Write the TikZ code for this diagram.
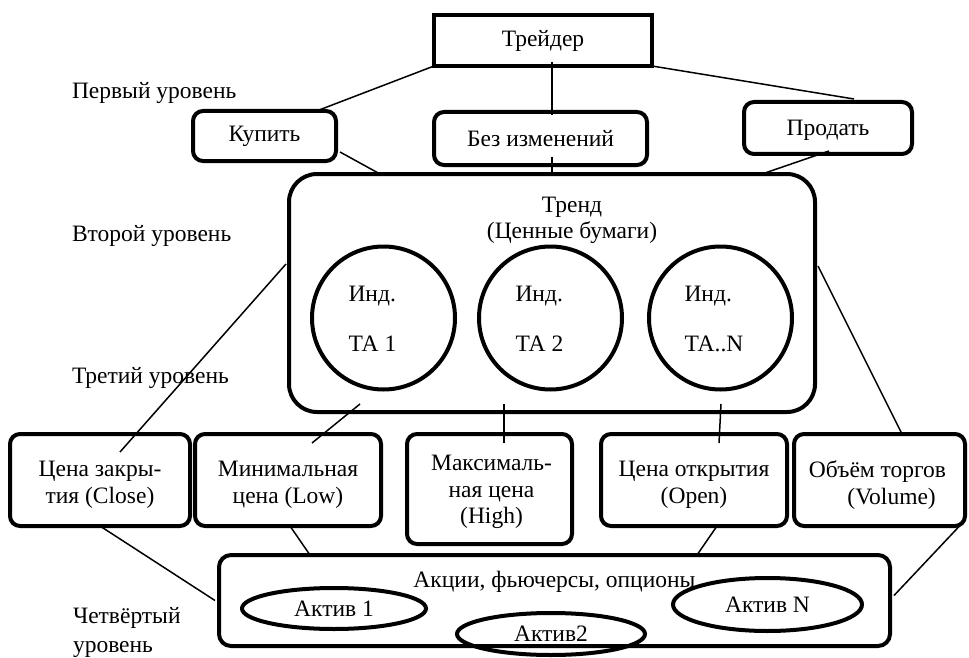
\documentclass[tikz,border=0pt]{standalone}
\usepackage{fontspec}
\setmainfont{Liberation Serif}
\usetikzlibrary{shapes.geometric,calc}
\begin{document}
\begin{tikzpicture}[x=1pt,y=-1pt,
  every node/.style={font=\fontsize{23.5}{27.5}\selectfont, inner sep=0pt, outer sep=0pt},
  sqbox/.style={draw, line width=4pt, align=center},
  rbox/.style={draw, line width=4pt, rounded corners=10pt, align=center},
  bigbox/.style={draw, line width=4pt, rounded corners=28pt},
  ind/.style={draw, circle, line width=4pt, minimum size=143pt},
  asset/.style={draw, ellipse, line width=4pt},
  conn/.style={line width=1.5pt},
  lvl/.style={anchor=west, align=left},
  btext/.style={align=center}
]
\fill[white] (0,0) rectangle (969,658);
\useasboundingbox (0,0) rectangle (969,658);

% level labels
\node[lvl] (l1) at (72,93) {Первый уровень};
\node[lvl] (l2) at (72,236) {Второй уровень};
\node[lvl] (l3) at (72,378) {Третий уровень};
\node[lvl, font=\fontsize{23.5}{29}\selectfont] (l4) at (73,632) {Четвёртый\\уровень};

% first level
\node[sqbox, minimum width=218pt, minimum height=51pt] (trader) at (543,40.5) {Трейдер};
\node[rbox, minimum width=143pt, minimum height=50pt] (buy) at (264.5,136) {Купить};
\node[rbox, minimum width=213pt, minimum height=53pt] (hold) at (540.5,138.5) {Без изменений};
\node[rbox, minimum width=168pt, minimum height=52pt] (sell) at (828,128) {};
\node (sellt) at ($(sell.center)+(0,2)$) {Продать};

% second level
\node[bigbox, minimum width=526pt, minimum height=238pt] (trend) at (552,293) {};
\node[align=center, font=\fontsize{23.5}{25.5}\selectfont] (trendt) at (572,220.5) {Тренд\\(Ценные бумаги)};

\node[ind] (c1) at (383.5,318) {};
\node[ind] (c2) at (550.5,318) {};
\node[ind] (c3) at (720.5,318) {};
\node[anchor=west] (c1a) at ($(c1.center)+(-35,-22)$) {Инд.};
\node[anchor=west] (c1b) at ($(c1.center)+(-35,26)$) {ТА 1};
\node[anchor=west] (c2a) at ($(c2.center)+(-35,-22)$) {Инд.};
\node[anchor=west] (c2b) at ($(c2.center)+(-35,26)$) {ТА 2};
\node[anchor=west] (c3a) at ($(c3.center)+(-36,-22)$) {Инд.};
\node[anchor=west] (c3b) at ($(c3.center)+(-36,26)$) {ТА..N};

% third level
\node[rbox, minimum width=180pt, minimum height=92pt] (close) at (100,480) {};
\node[rbox, minimum width=186pt, minimum height=92pt] (low) at (288,480) {};
\node[rbox, minimum width=165pt, minimum height=110pt] (high) at (489.5,489) {};
\node[rbox, minimum width=186pt, minimum height=92pt] (open) at (694,480) {};
\node[rbox, minimum width=171pt, minimum height=92pt] (vol) at (879.5,480) {};
\node[btext] (closet) at ($(close.center)+(0,5)$) {Цена закры-\\тия (Close)};
\node[btext] (lowt) at ($(low.center)+(0,5)$) {Минимальная\\цена (Low)};
\node[btext, font=\fontsize{23.5}{26.5}\selectfont] (hight) at ($(high.center)+(2,3)$) {Максималь-\\ная цена\\(High)};
\node[btext] (opent) at ($(open.center)+(0,5)$) {Цена открытия\\(Open)};
\node[btext] (volt) at ($(vol.center)+(-2,5)$) {Объём торгов\\\hspace*{1.2em}(Volume)};

% fourth level
\node[rbox, rounded corners=12pt, minimum width=671pt, minimum height=91pt] (assets) at (554.5,600.5) {};
\node (assetst) at (554.5,582) {Акции, фьючерсы, опционы};
\node[asset, minimum width=184pt, minimum height=41pt] (a1) at (334,608.5) {Актив 1};
\node[asset, minimum width=188pt, minimum height=42pt] (a2) at (551,634) {Актив2};
\node[asset, minimum width=189pt, minimum height=53pt] (aN) at (767.5,604.5) {Актив N};

% connectors
\draw[conn] (trader.south west) -- ($(buy.north)+(52,0)$);
\draw[conn] ($(trader.south)+(9,-4)$) -- ($(hold.north)+(11.5,3)$);
\draw[conn] (trader.south east) -- ($(sell.north)+(26,-3)$);
\draw[conn] ($(buy.east)+(4,16)$) -- ($(trend.north)+(-172,0)$);
\draw[conn] ($(hold.south)+(11.5,-8)$) -- ($(trend.north)$);
\draw[conn] ($(sell.south)+(1,-3)$) -- ($(trend.north)+(210,0)$);

\draw[conn] ($(trend.west)+(-3,-29)$) -- ($(close.north)+(20,18)$);
\draw[conn] ($(trend.south)+(-192,-8)$) -- ($(low.north)+(24,9)$);
\draw[conn] ($(trend.south)+(-48,-8)$) -- ($(high.north)+(14.5,9)$);
\draw[conn] ($(trend.south)+(169,-8)$) -- ($(open.north)+(25,9)$);
\draw[conn] ($(trend.east)+(3,-27)$) -- ($(vol.north)+(22.5,0)$);

\draw[conn] (close.south) -- ($(assets.west)+(-4,0)$);
\draw[conn] ($(low.south)+(2,0)$) -- ($(assets.north)+(-244.5,0)$);
\draw[conn] ($(open.south)+(23,0)$) -- ($(assets.north)+(142.5,0)$);
\draw[conn] ($(vol.south)+(80,0)$) -- ($(assets.east)+(4,-5)$);
\end{tikzpicture}
\end{document}
